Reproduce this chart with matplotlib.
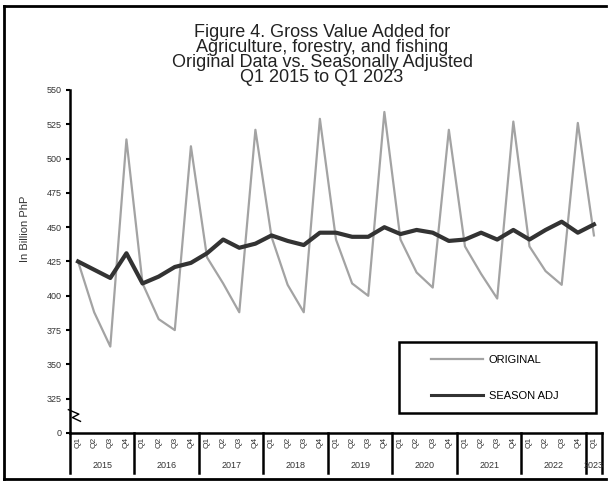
import numpy as np
import matplotlib.pyplot as plt
from matplotlib.lines import Line2D
from matplotlib.patches import Rectangle
import matplotlib.transforms as mtransforms

plt.rcParams['font.family'] = ['Liberation Sans', 'DejaVu Sans']

# Data (billion PhP), Q1 2015 .. Q1 2023
years = ['2015', '2016', '2017', '2018', '2019', '2020', '2021', '2022', '2023']
quarters = ['Q1', 'Q2', 'Q3', 'Q4']
original = [425, 388, 363, 514,
            409, 383, 375, 509,
            428, 409, 388, 521,
            443, 408, 388, 529,
            441, 409, 400, 534,
            441, 417, 406, 521,
            436, 416, 398, 527,
            436, 418, 408, 526,
            444]
season_adj = [425, 419, 413, 431,
              409, 414, 421, 424,
              431, 441, 435, 438,
              444, 440, 437, 446,
              446, 443, 443, 450,
              445, 448, 446, 440,
              441, 446, 441, 448,
              441, 448, 454, 446,
              452]
ytick_vals = [300, 325, 350, 375, 400, 425, 450, 475, 500, 525, 550]
ytick_labels = ['0', '325', '350', '375', '400', '425', '450', '475', '500', '525', '550']

W, H = 609, 482
fig = plt.figure(figsize=(W / 100, H / 100), dpi=100)
ax = fig.add_axes([70 / W, 1 - 433 / H, (602 - 70) / W, (433 - 90) / H])

def ax_frac(px, py):
    # pixel position -> axes fraction
    return (px - 70) / 532, (433 - py) / 343

n = len(original)
x = np.arange(n)
ax.plot(x, original, color='#a3a3a3', lw=1.6, label='ORIGINAL', zorder=2)
ax.plot(x, season_adj, color='#333333', lw=3.0, label='SEASON ADJ', zorder=3)

ax.set_xlim(-0.5, n - 0.5)
ax.set_ylim(300, 550)
ax.set_yticks(ytick_vals)
ax.set_yticklabels(ytick_labels, fontsize=6.5, color='#333333')
ax.tick_params(axis='y', direction='out', length=3, width=1.5, pad=3)

for s in ['top', 'right']:
    ax.spines[s].set_visible(False)
ax.spines['left'].set_linewidth(1.8)
ax.spines['bottom'].set_linewidth(1.8)

# quarter labels
qlabels = [quarters[i % 4] for i in range(n)]
ax.set_xticks(x)
ax.set_xticklabels(qlabels, rotation=90, fontsize=6, color='#333333')
ax.tick_params(axis='x', length=0, pad=3)

# year labels and separators under the axis
trans = mtransforms.blended_transform_factory(ax.transData, ax.transAxes)
bounds = [-0.5] + [3.5 + 4 * i for i in range(8)] + [n - 0.5]
for b in bounds:
    ax.add_line(Line2D([b, b], [0, -0.118], transform=trans, color='black',
                       lw=1.8, clip_on=False))
for i, yr in enumerate(years):
    xc = (bounds[i] + bounds[i + 1]) / 2
    ax.text(xc, -0.094, yr, transform=trans, ha='center', va='center',
            fontsize=6.5, color='#333333')

# axis break mark
ax.add_line(Line2D([-0.6, 0.05, -0.35, 0.15], [0.068, 0.055, 0.045, 0.034],
                   transform=trans, color='black', lw=1.0, clip_on=False))

ax.set_ylabel('In Billion PhP', fontsize=8, color='#333333')
ax.yaxis.set_label_coords(*ax_frac(30, 229))

fig.text(322 / W, 1 - 24 / H,
         'Figure 4. Gross Value Added for\nAgriculture, forestry, and fishing\n'
         'Original Data vs. Seasonally Adjusted\nQ1 2015 to Q1 2023',
         fontsize=13, color='#222222', linespacing=0.85, ha='center', va='top')

# legend box
bx0, by0 = ax_frac(399, 413)
bx1, by1 = ax_frac(596, 342)
ax.add_patch(Rectangle((bx0, by0), bx1 - bx0, by1 - by0, transform=ax.transAxes,
                       facecolor='white', edgecolor='black', lw=1.8, zorder=4))
leg = ax.legend(loc='center left', bbox_to_anchor=ax_frac(425, 378), frameon=False,
                fontsize=8, handlelength=4.7, labelspacing=2.35, borderpad=0,
                handletextpad=0.55)
leg.set_zorder(5)
for h in leg.get_lines():
    h.set_linewidth(1.6 if h.get_label() == 'ORIGINAL' else 2.2)

# outer frame (top, left, bottom)
fig.add_artist(Line2D([4 / W, 606 / W], [1 - 6 / H, 1 - 6 / H], color='black', lw=2))
fig.add_artist(Line2D([4 / W, 4 / W], [1 - 6 / H, 1 - 479 / H], color='black', lw=2))
fig.add_artist(Line2D([4 / W, 606 / W], [1 - 479 / H, 1 - 479 / H], color='black', lw=2))

fig.savefig('out.png', dpi=100)
